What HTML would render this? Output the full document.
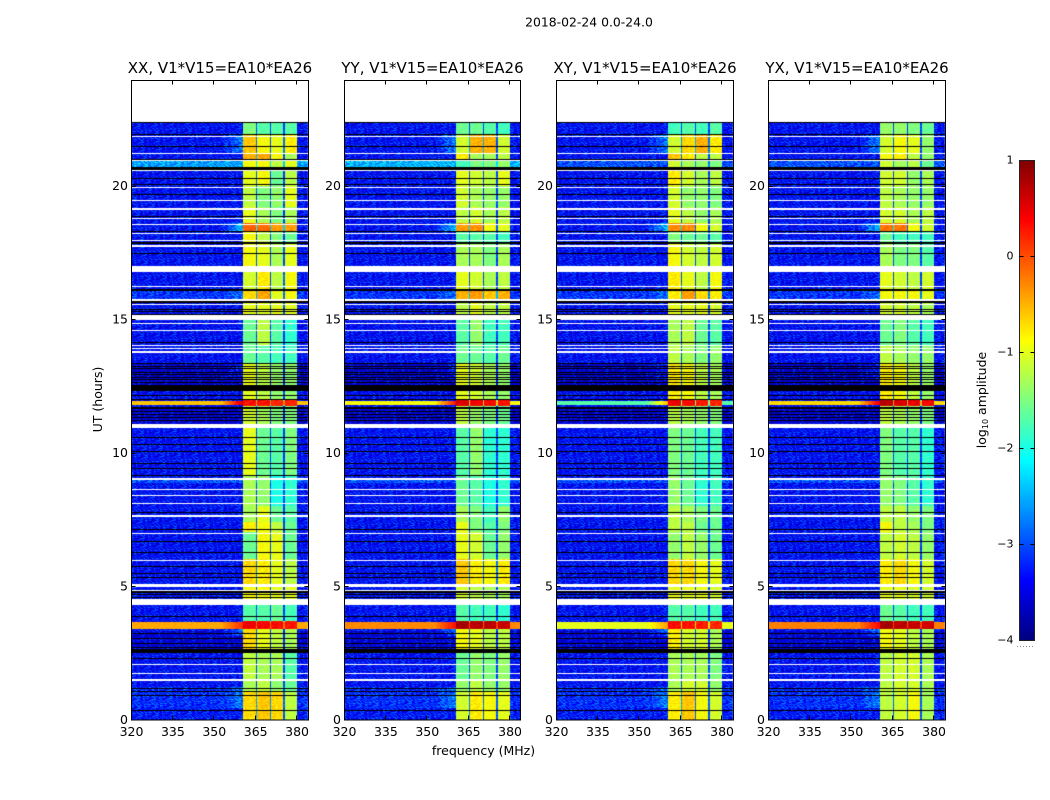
<!DOCTYPE html>
<html lang="en">
<head>
<meta charset="utf-8">
<title>2018-02-24 dynamic spectra</title>
<style>
html,body{margin:0;padding:0;background:#fff;width:1050px;height:800px;overflow:hidden}
#figure{position:relative;width:1050px;height:800px;background:#fff}
canvas{position:absolute;display:block}
svg{position:absolute;left:0;top:0}
text{font-family:"DejaVu Sans","Liberation Sans",sans-serif;fill:#000}
</style>
</head>
<body>
<div id="figure">
<svg id="overlay" width="1050" height="800" viewBox="0 0 1050 800">
  <text x="589" y="26.5" text-anchor="middle" font-size="12.4">2018-02-24 0.0-24.0</text>
  <text x="483.5" y="755" text-anchor="middle" font-size="12.5">frequency (MHz)</text>
  <text transform="translate(102,399.5) rotate(-90)" text-anchor="middle" font-size="12.5">UT (hours)</text>
  <text transform="translate(986,400) rotate(-90)" text-anchor="middle" font-size="12.5">log<tspan font-size="8" dy="2">10</tspan><tspan dy="-2"> amplitude</tspan></text>
</svg>
</div>
<script>
// ---------- chart data ----------
const panelTitles = ["XX, V1*V15=EA10*EA26", "YY, V1*V15=EA10*EA26", "XY, V1*V15=EA10*EA26", "YX, V1*V15=EA10*EA26"];
const freqTicks = [320, 335, 350, 365, 380];
const hourTicks = [0, 5, 10, 15, 20];
const colorbarTicks = [1, 0, -1, -2, -3, -4];
const colorbarTickLabels = ["1", "0", "\u22121", "\u22122", "\u22123", "\u22124"];

// hours at which white (no data) rows occur: [top, bottom]
const whiteRowSpans = [[21.85,21.80],[21.22,21.18],[20.95,20.92],[20.58,20.53],[19.96,19.91],[19.46,19.41],[19.14,19.09],[18.78,18.75],[18.56,18.52],[18.22,18.18],[17.96,17.92],[17.77,17.70],[16.99,16.76],[16.24,16.20],[15.75,15.67],[15.57,15.52],[15.15,14.96],[14.86,14.82],[14.59,14.55],[14.03,13.99],[13.93,13.89],[13.80,13.73],[11.07,10.92],[9.06,9.02],[8.99,8.96],[8.63,8.60],[8.41,8.37],[8.11,8.07],[7.66,7.60],[6.98,6.95],[5.97,5.94],[5.07,4.96],[4.85,4.81],[4.50,4.29],[2.08,2.04],[1.74,1.70],[1.53,1.44]];

// hours of black (very low amplitude) rows: [top, bottom]
const blackRowSpans = [[22.37,22.34],[21.93,21.89],[21.48,21.44],[20.99,20.95],[20.69,20.58],[20.28,20.24],[20.07,20.03],[19.68,19.64],[18.86,18.82],[18.30,18.26],[17.88,17.81],[17.47,17.44],[16.12,16.05],[15.67,15.59],[15.39,15.35],[15.29,15.25],[15.20,15.16],[14.15,14.09],[13.36,13.33],[13.24,13.20],[13.17,13.13],[13.03,13.00],[12.94,12.91],[12.84,12.81],[12.76,12.73],[12.64,12.61],[12.53,12.30],[12.15,12.11],[12.00,11.96],[11.70,11.63],[11.55,11.52],[11.44,11.41],[11.33,11.30],[11.22,11.19],[10.58,10.55],[10.32,10.29],[10.06,10.01],[9.62,9.59],[9.42,9.38],[9.16,9.13],[7.78,7.75],[7.15,7.10],[6.69,6.66],[6.29,6.26],[5.75,5.72],[5.49,5.44],[5.34,5.31],[4.81,4.75],[4.70,4.65],[4.59,4.55],[3.88,3.85],[3.24,3.21],[3.05,3.02],[2.87,2.84],[2.73,2.70],[2.64,2.49],[2.30,2.27],[1.18,1.15],[1.07,1.04],[0.92,0.89],[0.36,0.33]];

// background log10 amplitude, by period (top hour of each period)
const backgroundTops = [22.4, 16.1, 15.7, 13.3, 12.3, 11.7, 10.9, 3.3, 2.5, 1.2, 0.4];
const backgroundLevels = [-3.36, -3.15, -3.38, -3.6, -3.38, -3.58, -3.36, -3.55, -3.36, -3.18, -3.3];

// rows where the broadband level is raised: [top, bottom]
const brightRowSpans = [[20.92,20.69],[11.94,11.77],[8.96,8.85],[3.65,3.39]];
const brightLevelsXX = [-2.6, -0.6, -3.0, -0.45];
const brightLevelsYY = [-2.5, -0.9, -3.0, -0.3];
const brightLevelsXY = [-3.0, -1.7, -3.0, -1.0];
const brightLevelsYX = [-3.0, -0.7, -3.0, -0.25];

// raised level just below the band, 353-360 MHz: [top, bottom, boost]
const shoulderSpans = [[21.9,21.2,0.6],[18.6,18.25,0.9],[16.1,15.75,0.3],[13.3,12.7,0.3],[11.94,11.77,1.2],[3.65,3.1,0.6],[1.2,0.4,0.4]];

// four sub-band levels by period
const bandTops = [22.4,21.9,21.2,20.95,20.6,20,19.2,18.6,18.25,17.8,17,16.1,15.7,15,14,13.3,12,11.72,11,9.1,8,7.4,7,6,5,4.3,3.68,3.38,2.5,1.5,1];
const bandLevelsXX = [[-1.5,-1.7,-1.7,-1.7],[-0.6,-0.9,-1.0,-0.8],[-0.5,-0.45,-0.9,-1.3],[-0.9,-0.9,-1.2,-1.0],[-1.0,-0.9,-1.6,-1.2],[-1.2,-1.5,-1.4,-1.0],[-1.0,-1.3,-1.5,-1.3],[-0.1,-0.15,-0.4,-0.4],[-0.9,-1.2,-1.5,-1.6],[-0.9,-1.0,-1.3,-1.0],[-1.1,-0.8,-1.2,-0.9],[-0.7,-0.45,-1.0,-0.9],[-1.0,-1.0,-1.0,-1.0],[-1.6,-1.2,-1.7,-1.9],[-1.6,-1.7,-1.8,-1.8],[-1.0,-1.2,-1.4,-1.4],[0.3,0.3,0.2,0.2],[-1.1,-1.3,-1.5,-1.5],[-1.0,-1.6,-1.7,-1.5],[-1.3,-1.4,-2.0,-1.9],[-1.3,-1.0,-1.6,-1.7],[-0.8,-0.9,-1.2,-1.6],[-1.6,-0.9,-1.0,-1.6],[-0.7,-0.8,-1.0,-1.2],[-0.9,-0.9,-1.0,-1.0],[-1.7,-1.7,-1.6,-1.8],[0.45,0.4,0.35,0.3],[-0.7,-1.0,-1.2,-1.3],[-1.2,-1.3,-1.3,-1.7],[-1.3,-1.2,-1.4,-1.6],[-0.7,-0.6,-0.7,-1.2]];
const bandLevelsYY = [[-1.6,-1.6,-1.7,-1.8],[-1.1,-0.5,-0.5,-1.1],[-0.8,-1.3,-1.3,-1.2],[-1.8,-1.5,-1.5,-1.4],[-1.0,-1.1,-1.2,-1.0],[-1.1,-1.3,-1.4,-1.4],[-1.2,-1.1,-1.3,-1.2],[-0.4,-0.35,-0.9,-1.0],[-1.7,-1.7,-1.7,-1.8],[-1.3,-1.3,-1.5,-1.3],[-1.0,-1.1,-1.3,-1.2],[-0.5,-0.4,-0.6,-0.5],[-1.2,-1.0,-1.2,-1.2],[-1.7,-1.4,-1.8,-1.8],[-1.6,-1.6,-1.7,-1.6],[-1.0,-1.1,-1.3,-1.4],[0.55,0.4,0.35,0.3],[-1.2,-1.4,-1.5,-1.6],[-1.7,-1.4,-1.9,-1.9],[-1.6,-1.7,-2.0,-1.9],[-1.3,-1.5,-1.8,-1.4],[-1.0,-1.5,-1.7,-1.5],[-1.0,-1.1,-1.6,-1.4],[-0.6,-0.8,-0.9,-0.8],[-1.1,-1.2,-1.3,-1.3],[-1.7,-1.8,-1.8,-1.9],[0.8,0.7,0.7,0.65],[-0.9,-1.0,-1.2,-1.2],[-1.6,-1.4,-1.5,-1.4],[-1.4,-1.2,-1.4,-1.4],[-1.1,-0.8,-0.9,-1.0]];
const bandLevelsXY = [[-1.8,-1.7,-1.8,-1.7],[-1.1,-0.7,-0.5,-0.8],[-0.6,-0.8,-1.2,-1.2],[-1.1,-1.3,-1.4,-1.5],[-0.8,-1.1,-1.3,-1.2],[-1.1,-1.4,-1.4,-1.5],[-1.0,-1.2,-1.4,-1.3],[-0.3,-0.3,-0.9,-1.1],[-1.5,-1.6,-1.6,-1.7],[-0.9,-1.1,-1.2,-1.1],[-0.8,-1.0,-1.2,-0.9],[-0.8,-0.4,-0.7,-0.8],[-1.0,-1.0,-1.0,-1.1],[-1.3,-1.2,-1.6,-1.7],[-1.2,-1.3,-1.5,-1.4],[-0.8,-0.9,-1.2,-1.3],[0.45,0.35,0.25,0.2],[-1.2,-1.3,-1.4,-1.5],[-1.5,-1.6,-1.8,-1.8],[-1.4,-1.6,-1.9,-1.8],[-1.2,-1.3,-1.5,-1.6],[-1.2,-1.2,-1.6,-1.6],[-1.4,-1.2,-1.4,-1.6],[-0.7,-0.7,-0.9,-1.0],[-1.0,-1.0,-1.0,-1.1],[-1.7,-1.7,-1.8,-1.8],[0.35,0.3,0.25,0.2],[-0.8,-1.1,-1.1,-1.3],[-1.3,-1.3,-1.3,-1.5],[-1.3,-1.1,-1.1,-1.4],[-0.8,-0.6,-0.9,-1.1]];
const bandLevelsYX = [[-1.4,-1.4,-1.5,-1.6],[-1.1,-0.9,-1.0,-1.4],[-0.9,-0.8,-1.2,-1.4],[-1.1,-1.3,-1.2,-1.6],[-1.1,-1.1,-1.4,-1.3],[-1.2,-1.3,-1.4,-1.4],[-1.1,-1.1,-1.3,-1.2],[-0.2,-0.2,-0.9,-1.1],[-1.6,-1.8,-1.8,-1.8],[-1.3,-1.5,-1.5,-1.7],[-1.0,-1.1,-1.2,-1.1],[-0.9,-0.9,-0.9,-1.0],[-1.1,-1.1,-1.2,-1.3],[-1.6,-1.5,-1.7,-1.8],[-1.2,-1.3,-1.4,-1.4],[-0.8,-0.9,-1.2,-1.4],[0.7,0.55,0.45,0.4],[-1.2,-1.3,-1.4,-1.5],[-1.5,-1.7,-1.7,-1.9],[-1.4,-1.5,-1.7,-1.9],[-1.2,-1.2,-1.4,-1.5],[-0.9,-1.2,-1.3,-1.5],[-1.2,-1.1,-1.2,-1.4],[-0.8,-0.7,-0.9,-1.1],[-1.0,-1.0,-1.1,-1.1],[-1.6,-1.7,-1.8,-1.8],[0.8,0.7,0.65,0.6],[-0.9,-1.0,-1.2,-1.3],[-1.2,-1.1,-1.1,-1.3],[-1.2,-1.1,-1.1,-1.3],[-1.2,-1.1,-0.9,-1.3]];

// typical cell scatter about the mean level, sampled across the map
const scatterSample = [0.12,-0.28,0.05,0.41,-0.12,-0.33,0.18,0.02,-0.24,0.46,-0.06,-0.16,0.22,-0.31,0.08,0.29,-0.1,0.35,-0.22,0.04,-0.14,0.2,-0.04,-0.36,0.15,0.52,-0.19,-0.08,0.01,-0.27,0.33,-0.12,0.1,-0.34,0.24,-0.02,0.44,-0.21,-0.15,0.07,-0.3,0.17,0.38,-0.09,-0.25,0.03,0.27,-0.35,0.13,-0.05,-0.18,0.5,-0.29,0.06,0.21,-0.13,-0.37,0.31,-0.01,0.09,-0.23,0.4,-0.17,0.14,-0.32,0.26,-0.07,-0.2,0.48,0.0,-0.26,0.11,0.34,-0.11,-0.38,0.19,-0.03,0.23,-0.16,0.43,-0.28,0.08,-0.1,0.3,-0.34,0.16,-0.22,0.04,0.37,-0.14,-0.06,0.25,-0.31,0.12,0.55,-0.19,-0.24];

// ---------- axis functions and layout ----------
const panelLefts = [131.5, 344.5, 556.5, 768.5];
const panelWidths = [177, 176, 177, 177];
const pxPerMHz = 2.76, pxPerHour = 26.7, hourZeroPx = 719.5;
const xScale = (mhz, p) => panelLefts[p] + (mhz - 320) * pxPerMHz;
const yScale = (hour) => hourZeroPx - hour * pxPerHour;
const cbarTopPx = 160, cbarBottomPx = 640, cbarLeftPx = 1020, cbarRightPx = 1034;
const cbarScale = (v) => cbarTopPx + (1 - v) / 5 * (cbarBottomPx - cbarTopPx);

function jet(level) {
  const t = Math.max(0, Math.min(1, (level + 4) / 5));
  const f = (a) => Math.round(255 * Math.max(0, Math.min(1, 1.5 - Math.abs(4 * t - a))));
  return "rgb(" + f(3) + "," + f(2) + "," + f(1) + ")";
}
function spanIndex(tops, hour) {
  let idx = 0;
  for (let i = 0; i < tops.length; i++) { if (hour <= tops[i]) idx = i; }
  return idx;
}
function bandIndexFor(mhz) {
  if (mhz < 360.5 || mhz >= 380) return -1;
  return Math.min(3, Math.floor((mhz - 360) / 5));
}
const dataTopHour = 22.37, rowStep = 0.0375, chanStep = 0.5, freqMax = 384;
const bandSets = [bandLevelsXX, bandLevelsYY, bandLevelsXY, bandLevelsYX];
const brightSets = [brightLevelsXX, brightLevelsYY, brightLevelsXY, brightLevelsYX];

const figure = document.getElementById("figure");
const overlay = document.getElementById("overlay");
const NS = "http://www.w3.org/2000/svg";

function cellLevel(p, hour, mhz, r, c) {
  const bi = bandIndexFor(mhz);
  let bg = backgroundLevels[spanIndex(backgroundTops, hour)];
  let bright = null;
  brightRowSpans.forEach((s, i) => { if (hour <= s[0] && hour >= s[1]) bright = brightSets[p][i]; });
  if (bright !== null) bg = bright;
  const rip = scatterSample[(c * 7 + r * 13 + p * 29) % scatterSample.length];
  if (bi < 0) {
    let lvl = bg + rip * (bright !== null && bright > -2 ? 0.15 : 1);
    if (mhz >= 353 && mhz < 360.5) {
      shoulderSpans.forEach((s) => {
        if (hour <= s[0] && hour >= s[1]) lvl += s[2] * (mhz - 352) / 8;
      });
    }
    return lvl;
  }
  const band = bandSets[p][spanIndex(bandTops, hour)][bi];
  const isGap = bi > 0 && mhz - (360 + bi * 5) < 0.5;
  if (isGap) return Math.max(bg + 0.3, band - 2) + rip * 0.4;
  return band + rip * 0.35;
}

panelTitles.forEach((title, p) => {
  const canvas = document.createElement("canvas");
  
  
  const leftPx = Math.round(panelLefts[p]);
  const widthPx = panelWidths[p];
  canvas.width = widthPx;
  canvas.height = 640;
  canvas.style.left = leftPx + "px";
  canvas.style.top = "80px";
  figure.insertBefore(canvas, overlay);
  const ctx = canvas.getContext("2d");
  ctx.fillStyle = "#fff";
  ctx.fillRect(0, 0, canvas.width, canvas.height);
  const rows = Math.ceil(dataTopHour / rowStep);
  const cols = Math.round((freqMax - 320) / chanStep);
  for (let r = 0; r < rows; r++) {
    const hLow = r * rowStep, hHigh = Math.min(dataTopHour, hLow + rowStep);
    const y0 = Math.round(yScale(hHigh)) - 80;
    const y1 = Math.round(yScale(hLow)) - 80;
    for (let c = 0; c < cols; c++) {
      const f0 = 320 + c * chanStep;
      const x0 = Math.round(xScale(f0, p)) - leftPx;
      const x1 = Math.round(xScale(f0 + chanStep, p)) - leftPx;
      ctx.fillStyle = jet(cellLevel(p, hLow + rowStep / 2, f0, r, c));
      ctx.fillRect(x0, y0, Math.max(1, x1 - x0), Math.max(1, y1 - y0));
    }
  }
  const paintSpans = (spans, color) => {
    ctx.fillStyle = color;
    spans.forEach((s) => {
      const y0 = Math.round(yScale(s[0])) - 80;
      const y1 = Math.round(yScale(s[1])) - 80;
      ctx.fillRect(0, y0, canvas.width, Math.max(1, y1 - y0));
    });
  };
  paintSpans(blackRowSpans, "#000");
  paintSpans(whiteRowSpans, "#fff");

  // frame
  const frame = document.createElementNS(NS, "rect");
  
  
  frame.setAttribute("x", leftPx - 0.5);
  frame.setAttribute("y", 80.5);
  frame.setAttribute("width", widthPx);
  frame.setAttribute("height", 639.5);
  frame.setAttribute("fill", "none");
  frame.setAttribute("stroke", "#000");
  overlay.appendChild(frame);

  // panel title
  const tt = document.createElementNS(NS, "text");
  
  
  tt.setAttribute("x", leftPx - 0.5 + widthPx / 2);
  tt.setAttribute("y", 73);
  tt.setAttribute("text-anchor", "middle");
  tt.setAttribute("font-size", "15");
  tt.textContent = title;
  overlay.appendChild(tt);

  // x ticks
  freqTicks.forEach((v) => {
    const x = Math.round(xScale(v, p)) - 0.5;
    if (v !== freqTicks[0]) {
      [[80.5, 84.5], [719.5, 715.5]].forEach((e) => {
        const tick = document.createElementNS(NS, "line");
        
        
        tick.setAttribute("x1", x);
        tick.setAttribute("x2", x);
        tick.setAttribute("y1", e[0]);
        tick.setAttribute("y2", e[1]);
        tick.setAttribute("stroke", "#000");
        overlay.appendChild(tick);
      });
    }
    const lab = document.createElementNS(NS, "text");
    
    
    lab.setAttribute("x", xScale(v, p));
    lab.setAttribute("y", 736);
    lab.setAttribute("text-anchor", "middle");
    lab.setAttribute("font-size", "12.5");
    lab.textContent = String(v);
    overlay.appendChild(lab);
  });

  // y ticks
  hourTicks.forEach((v) => {
    const y = Math.round(yScale(v)) + 0.5;
    if (v !== hourTicks[0]) {
      [[leftPx - 0.5, leftPx + 3.5], [leftPx + widthPx - 0.5, leftPx + widthPx - 4.5]].forEach((e) => {
        const tick = document.createElementNS(NS, "line");
        
        
        tick.setAttribute("x1", e[0]);
        tick.setAttribute("x2", e[1]);
        tick.setAttribute("y1", y);
        tick.setAttribute("y2", y);
        tick.setAttribute("stroke", "#000");
        overlay.appendChild(tick);
      });
    }
    const lab = document.createElementNS(NS, "text");
    
    
    lab.setAttribute("x", leftPx - 4);
    lab.setAttribute("y", yScale(v) + 4.5);
    lab.setAttribute("text-anchor", "end");
    lab.setAttribute("font-size", "12.5");
    lab.textContent = String(v);
    overlay.appendChild(lab);
  });
});

// ---------- colorbar ----------
const cbar = document.createElement("canvas");


cbar.width = cbarRightPx - cbarLeftPx;
cbar.height = cbarBottomPx - cbarTopPx;
cbar.style.left = cbarLeftPx + "px";
cbar.style.top = cbarTopPx + "px";
figure.insertBefore(cbar, overlay);
const cctx = cbar.getContext("2d");
for (let py = 0; py < cbar.height; py++) {
  cctx.fillStyle = jet(1 - (py + 0.5) / cbar.height * 5);
  cctx.fillRect(0, py, cbar.width, 1);
}
const cbarFrame = document.createElementNS(NS, "rect");


cbarFrame.setAttribute("x", cbarLeftPx - 0.5);
cbarFrame.setAttribute("y", cbarTopPx + 0.5);
cbarFrame.setAttribute("width", cbarRightPx - cbarLeftPx + 1);
cbarFrame.setAttribute("height", cbarBottomPx - cbarTopPx);
cbarFrame.setAttribute("fill", "none");
cbarFrame.setAttribute("stroke", "#222");
overlay.appendChild(cbarFrame);

colorbarTicks.forEach((v, i) => {
  const y = Math.round(cbarScale(v)) + 0.5;
  if (v !== 1 && v !== -4) {
    [[cbarLeftPx - 0.5, cbarLeftPx + 3.5], [cbarRightPx + 0.5, cbarRightPx - 3.5]].forEach((e) => {
      const tick = document.createElementNS(NS, "line");
      
      
      tick.setAttribute("x1", e[0]);
      tick.setAttribute("x2", e[1]);
      tick.setAttribute("y1", y);
      tick.setAttribute("y2", y);
      tick.setAttribute("stroke", "#000");
      overlay.appendChild(tick);
    });
  }
  const lab = document.createElementNS(NS, "text");
  
  
  lab.setAttribute("x", 1013.5);
  lab.setAttribute("y", cbarScale(v) + 3.5);
  lab.setAttribute("text-anchor", "end");
  lab.setAttribute("font-size", "11");
  lab.textContent = colorbarTickLabels[i];
  overlay.appendChild(lab);
});

const offsetDots = document.createElementNS(NS, "line");


offsetDots.setAttribute("x1", 1017);
offsetDots.setAttribute("x2", 1035);
offsetDots.setAttribute("y1", 646.5);
offsetDots.setAttribute("y2", 646.5);
offsetDots.setAttribute("stroke", "#888");
offsetDots.setAttribute("stroke-dasharray", "1 2");
overlay.appendChild(offsetDots);
</script>
</body>
</html>
